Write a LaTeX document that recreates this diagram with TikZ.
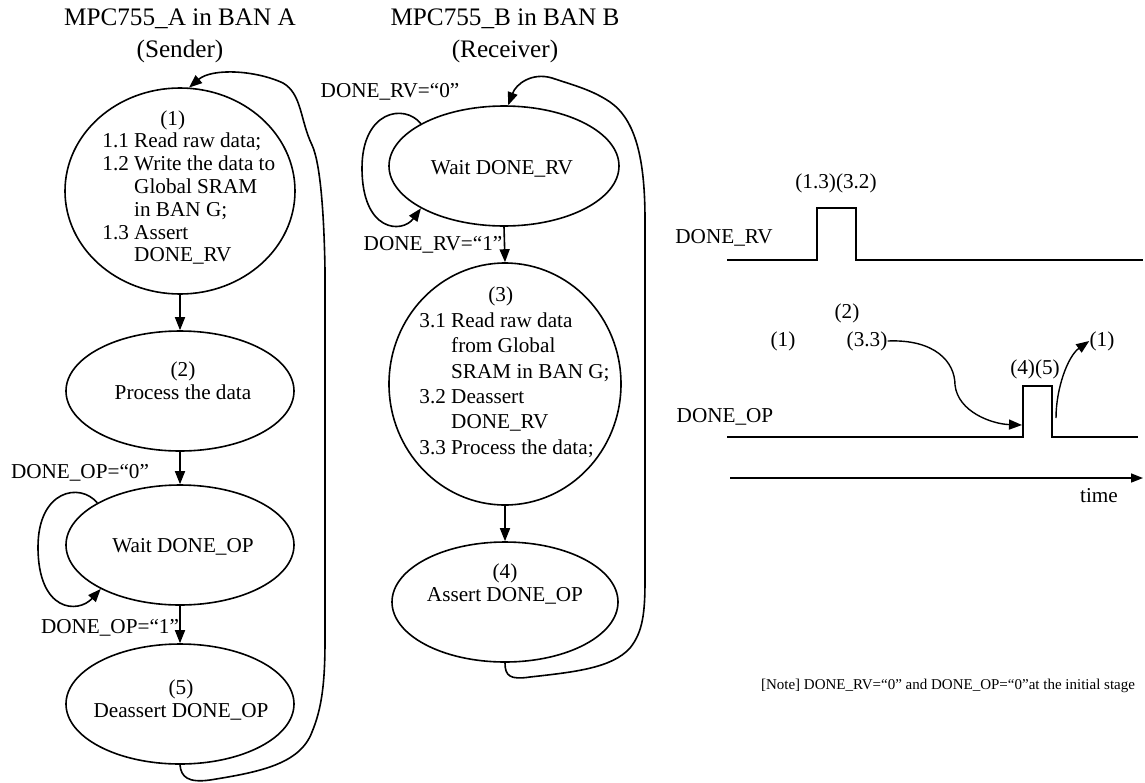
\documentclass[tikz,border=0pt]{standalone}
\usepackage{fontspec}
\setmainfont{Liberation Serif}
\usetikzlibrary{shapes.geometric,arrows.meta}
\tikzset{
  stt/.style={draw, ellipse, inner sep=0pt, line width=0.8pt},
  bodyfont/.style={font=\fontsize{10.6}{11.4}\selectfont},
  txt/.style={inner sep=0pt, bodyfont, align=center},
  ttl/.style={inner sep=0pt, align=center, font=\fontsize{12.6}{16}\selectfont},
  arr/.style={line width=0.8pt, -{Triangle[length=6.5pt,width=5pt]}},
  sig/.style={line width=0.8pt},
  curve/.style={line width=0.7pt, -{Triangle[length=6.5pt,width=5pt]}},
}
\renewcommand{\arraystretch}{1}
\begin{document}
\begin{tikzpicture}[x=0.5pt,y=-0.5pt]
\useasboundingbox (0,0) rectangle (1145,782);

% titles
\node[ttl] (tA) at (180,36) {MPC755\_A in BAN A\\(Sender)};
\node[ttl] (tB) at (505,36) {MPC755\_B in BAN B\\(Receiver)};

% left column states
\node[stt, minimum width=115pt, minimum height=103pt] (s1) at (180,191) {};
\node[stt, minimum width=114pt, minimum height=60pt] (s2) at (180,391) {};
\node[stt, minimum width=114pt, minimum height=60pt] (sOP) at (180,545) {};
\node[stt, minimum width=114pt, minimum height=60pt] (s5) at (180,704) {};

% middle column states
\node[stt, minimum width=115pt, minimum height=60pt] (sRV) at (504,166) {};
\node[stt, minimum width=116pt, minimum height=121pt] (s3) at (505,384) {};
\node[stt, minimum width=113pt, minimum height=60pt] (s4) at (505,602) {};

% texts in states
\node[txt, anchor=west] (t1) at (102,189) {%
\begin{tabular}{@{}l@{\ }l@{}}
\multicolumn{2}{@{}l}{\hspace{29pt}(1)}\\
1.1 & Read raw data;\\
1.2 & Write the data to\\
 & Global SRAM\\
 & in BAN G;\\
1.3 & Assert\\
 & DONE\_RV
\end{tabular}};
\node[txt] (t2) at (183,381) {(2)\\Process the data};
\node[txt] (tOP) at (183,547) {Wait DONE\_OP};
\node[txt] (t5) at (181,700) {(5)\\Deassert DONE\_OP};
\node[txt] (tRV) at (502,169) {Wait DONE\_RV};
\node[txt, anchor=west, font=\fontsize{10.6}{12.7}\selectfont] (t3) at (419,373) {%
\begin{tabular}{@{}l@{\ }l@{}}
\multicolumn{2}{@{}l}{\hspace{34.5pt}(3)}\\
3.1 & Read raw data\\
 & from Global\\
 & SRAM in BAN G;\\
3.2 & Deassert\\
 & DONE\_RV\\
3.3 & Process the data;
\end{tabular}};
\node[txt] (t4) at (505,584) {(4)\\Assert DONE\_OP};

% straight transitions
\draw[arr] (s1.south) -- (s2.north);
\draw[arr] (s2.south) -- (sOP.north);
\draw[arr] (sOP.south) -- (s5.north);
\draw[arr] (sRV.south) -- (s3.north);
\draw[arr] (s3.south) -- (s4.north);

% self loops
\draw[arr] (sOP.153) .. controls (80,482) and (38,490) .. (38,547)
  .. controls (38,612) and (78,614) .. (sOP.209);
\draw[arr] (sRV.153) .. controls (404,103) and (362,111) .. (362,168)
  .. controls (362,232) and (402,234) .. (sRV.207);

% transition labels
\node[txt] (lOP0) at (80,473) {DONE\_OP=“0”};
\node[txt] (lOP1) at (110,628) {DONE\_OP=“1”};
\node[txt] (lRV0) at (390,92) {DONE\_RV=“0”};
\node[txt] (lRV1) at (433,245) {DONE\_RV=“1”};

% back edges
\draw[arr] (s5.south) .. controls (181,777) and (188,783) .. (210,780)
  .. controls (260,772) and (300,764) .. (312,732)
  .. controls (322,708) and (325,682) .. (325,640)
  -- (325,270)
  .. controls (324,210) and (320,162) .. (312,145)
  .. controls (300,120) and (302,94) .. (283,83)
  .. controls (255,70) and (212,68) .. (s1.85);
\draw[arr] (s4.south) .. controls (505,676) and (510,680) .. (530,677)
  .. controls (575,672) and (612,668) .. (630,648)
  .. controls (643,632) and (645,612) .. (645,580)
  -- (645,220)
  .. controls (645,160) and (636,120) .. (610,102)
  .. controls (592,90) and (576,86) .. (552,78)
  .. controls (532,72) and (516,84) .. (sRV.86);

% timing diagram
\node[txt] (lsRV) at (724,238) {DONE\_RV};
\node[txt] (n13) at (836,183) {(1.3)(3.2)};
\draw[sig] (727,260) -- (817,260) -- (817,208) -- (856,208) -- (856,260) -- (1143,260);

\node[txt] (n2) at (847,313) {(2)};
\node[txt] (n1a) at (783,341) {(1)};
\node[txt] (n33) at (867,341) {(3.3)};
\node[txt] (n45) at (1035,369) {(4)(5)};
\node[txt] (n1b) at (1102,341) {(1)};
\node[txt] (lsOP) at (725,417) {DONE\_OP};
\draw[sig] (727,437) -- (1023,437) -- (1023,386) -- (1052,386) -- (1052,437) -- (1138,437);

\coordinate (opup) at (1022,425);
\coordinate (opdn) at (1056,418);
\draw[curve] (n33.east) .. controls (935,339) and (955,362) .. (955,385)
  .. controls (958,412) and (992,424) .. (opup);
\draw[curve] (opdn) .. controls (1056,388) and (1068,356) .. (n1b.west);

\coordinate (t0) at (730,478);
\coordinate (t1) at (1143,478);
\draw[line width=0.8pt, -{Triangle[length=6pt,width=4.5pt]}] (t0) -- (t1);
\node[txt] (ntime) at (1099,496) {time};

% note
\node[txt, font=\fontsize{7.5}{9}\selectfont] (note) at (948,686) {[Note] DONE\_RV=“0” and DONE\_OP=“0”at the initial stage};
\end{tikzpicture}
\end{document}
